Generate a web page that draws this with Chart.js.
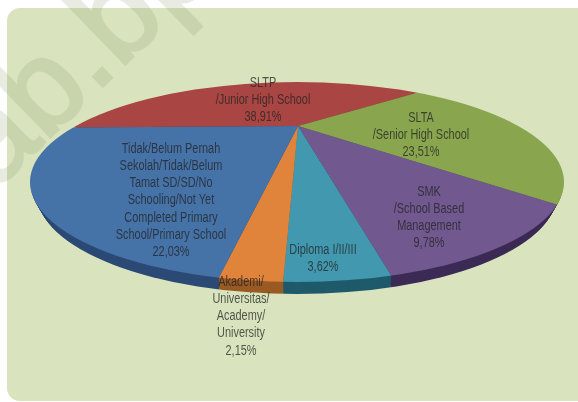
<!DOCTYPE html>
<html>
<head>
<meta charset="utf-8">
<title>Pendidikan</title>
<script src="https://cdn.jsdelivr.net/npm/chart.js@4/dist/chart.umd.min.js"></script>
<style>
  html, body { margin: 0; padding: 0; background: #fff; }
  .wrap { position: relative; width: 578px; height: 402px; overflow: hidden; }
  .panel { position: absolute; left: 7px; top: 8px; width: 620px; height: 393px; border-radius: 13px; background: #D9E4BE; }
  .stamp {
    position: absolute; left: 0; top: 0; white-space: pre;
    font: 125px/1 "Liberation Sans";
    color: rgb(120,140,90);
    -webkit-text-stroke: 3px rgb(120,140,90);
    opacity: 0.17;
    transform-origin: 0 0;
    transform: translate(-5px, 191px) rotate(-44.2deg) translateY(-106px);
  }
  canvas { position: absolute; left: 0; top: 0; }
</style>
</head>
<body>
<div class="wrap">
  <div class="panel"></div>
  <div class="stamp">ab.bp</div>
  <canvas id="pie" width="578" height="402"></canvas>
</div>
<script>
// slices, clockwise from the left edge
const categories = [
  'SLTP /Junior High School',
  'SLTA /Senior High School',
  'SMK /School Based Management',
  'Diploma I/II/III',
  'Akademi/ Universitas/ Academy/ University',
  'Tidak/Belum Pernah Sekolah/Tidak/Belum Tamat SD/SD/No Schooling/Not Yet Completed Primary School/Primary School'
];
const shares = [38.91, 23.51, 9.78, 3.62, 2.15, 22.03];
const shareLabels = ['38,91%', '23,51%', '9,78%', '3,62%', '2,15%', '22,03%'];

const faceColors = ['#A94643', '#89A54E', '#71588F', '#4198AF', '#E0843C', '#4572A7'];
const sideColors = ['#6E2C2A', '#5A6D32', '#3B2B55', '#1F5A6B', '#9A5A24', '#2C4A75'];

// label lines as they wrap on the chart, with centre x and first line y
const labelLines = [
  ['SLTP', '/Junior High School'],
  ['SLTA', '/Senior High School'],
  ['SMK', '/School Based', 'Management'],
  ['Diploma I/II/III'],
  ['Akademi/', 'Universitas/', 'Academy/', 'University'],
  ['Tidak/Belum Pernah', 'Sekolah/Tidak/Belum', 'Tamat SD/SD/No', 'Schooling/Not Yet', 'Completed Primary', 'School/Primary School']
];
const labelX = [263, 421, 429, 323, 241, 171];
const labelY = [83, 118, 192, 250, 282, 149];
const lineHeight = 17.2;
const labelSquash = 0.78;

// tilted disc: outline of the top face and where the hub lands
const disc = { cx: 297, cy: 182, rx: 267, ry: 100, depth: 12, taper: 0.6 };
const hub = { x: 298, y: 126, scale: 2.6, tilt: 0.32 };

function tiltedPie(ctx, chart, dy) {
  const arc = chart.getDatasetMeta(0).data[0];
  ctx.beginPath();
  ctx.ellipse(disc.cx, disc.cy + dy, disc.rx - dy * disc.taper, disc.ry, 0, 0, Math.PI * 2);
  ctx.clip();
  ctx.translate(hub.x, hub.y + dy);
  ctx.scale(hub.scale, hub.scale * hub.tilt);
  ctx.translate(-arc.x, -arc.y);
}

const discPlugin = {
  id: 'disc',
  beforeDatasetsDraw(chart) {
    const ctx = chart.ctx;
    const arcs = chart.getDatasetMeta(0).data;
    // side wall: sweep the slices down in the darker colours
    for (let d = disc.depth; d > 0; d--) {
      ctx.save();
      tiltedPie(ctx, chart, d);
      arcs.forEach((arc, i) => {
        const faceOptions = arc.options;
        arc.options = Object.create(faceOptions, { backgroundColor: { value: sideColors[i] } });
        arc.draw(ctx);
        arc.options = faceOptions;
      });
      ctx.restore();
    }
    ctx.save();
    tiltedPie(ctx, chart, 0);
  },
  afterDatasetsDraw(chart) {
    chart.ctx.restore();
  },
  afterDraw(chart) {
    const ctx = chart.ctx;
    ctx.save();
    ctx.font = '14px "Liberation Sans"';
    ctx.textAlign = 'center';
    ctx.textBaseline = 'middle';
    ctx.fillStyle = 'rgba(35,35,35,0.75)';
    labelLines.forEach((lines, i) => {
      lines.concat(shareLabels[i]).forEach((line, n) => {
        ctx.save();
        ctx.translate(labelX[i], labelY[i] + n * lineHeight);
        ctx.scale(labelSquash, 1);
        ctx.fillText(line, 0, 0);
        ctx.restore();
      });
    });
    ctx.restore();
  }
};

new Chart(document.getElementById('pie'), {
  type: 'pie',
  data: {
    labels: categories,
    datasets: [{
      data: shares,
      backgroundColor: faceColors,
      borderWidth: 0,
      clip: false
    }]
  },
  options: {
    responsive: false,
    animation: false,
    rotation: -91.2,
    plugins: {
      legend: { display: false },
      tooltip: { enabled: false }
    }
  },
  plugins: [discPlugin]
});
</script>
</body>
</html>
